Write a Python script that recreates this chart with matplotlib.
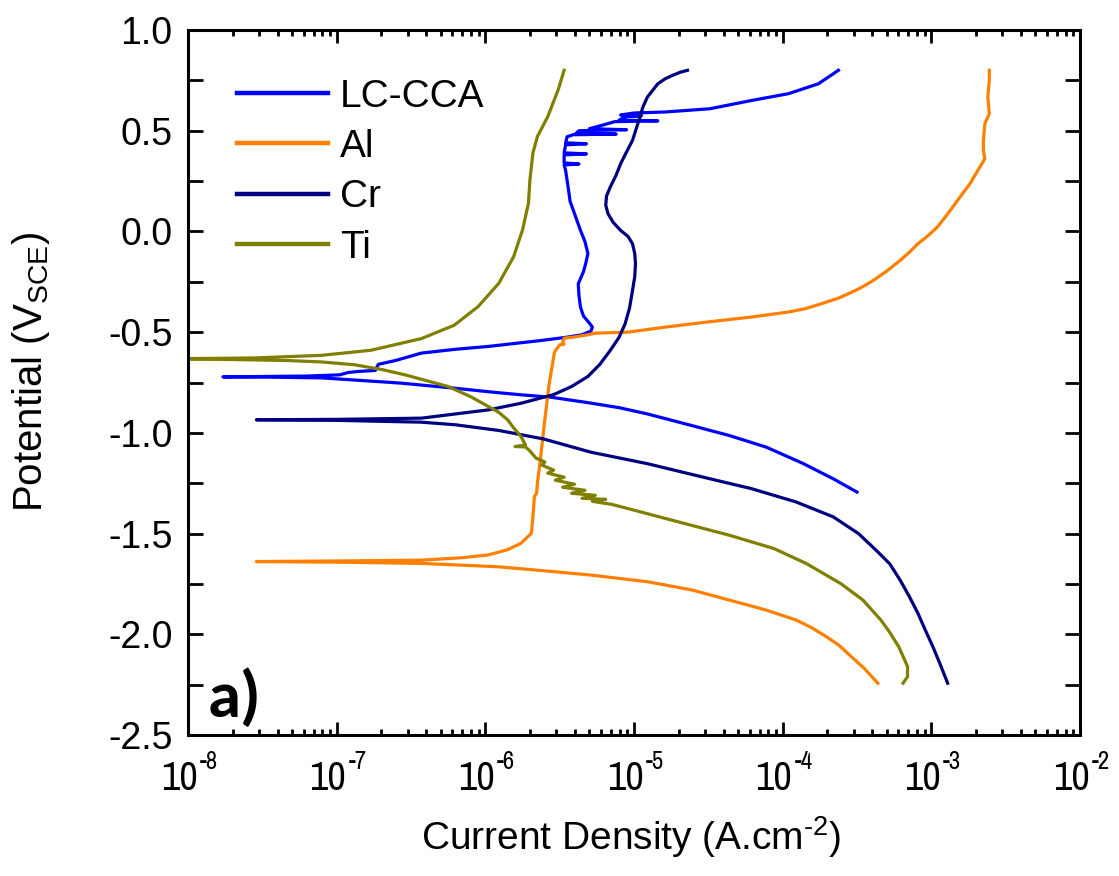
import numpy as np
import matplotlib
matplotlib.use("Agg")
import matplotlib.pyplot as plt
from matplotlib import font_manager
from matplotlib.transforms import ScaledTranslation
from matplotlib.ticker import FixedLocator, LogLocator, NullFormatter, FixedFormatter

# ---------------- data (log10 current density [A/cm2], potential [V_SCE]) ----------------
lc_logi = [-3.50, -3.66, -3.86, -4.11, -4.36, -4.61, -4.91, -5.10, -5.31, -5.56, -5.76, -5.95,
           -6.21, -6.57, -7.10, -7.50, -7.765,
           -7.20, -6.98, -6.92, -6.85, -6.74, -6.72, -6.60, -6.43, -6.20, -5.98, -5.80, -5.62,
           -5.45, -5.35, -5.29, -5.28, -5.30, -5.34, -5.36, -5.37, -5.375, -5.34, -5.325, -5.31,
           -5.33, -5.36, -5.40, -5.43, -5.44, -5.46,
           -5.47, -5.37, -5.47, -5.47, -5.32, -5.47, -5.46, -5.32, -5.46, -5.45, -5.41, -5.12,
           -5.39, -5.37, -5.05, -5.30, -5.20, -5.13, -4.84, -5.10, -5.05, -4.95, -5.09,
           -5.00, -4.79, -4.49, -4.21, -3.96, -3.76, -3.675, -3.625]
lc_v = [-1.294, -1.228, -1.153, -1.071, -1.013, -0.964, -0.906, -0.875, -0.850, -0.823, -0.811, -0.798,
        -0.778, -0.753, -0.727, -0.723, -0.722,
        -0.718, -0.712, -0.700, -0.695, -0.690, -0.660, -0.640, -0.604, -0.585, -0.571, -0.556, -0.541,
        -0.525, -0.513, -0.495, -0.475, -0.455, -0.420, -0.376, -0.320, -0.260, -0.200, -0.160, -0.110,
        -0.050, 0.005, 0.088, 0.150, 0.204, 0.303,
        0.330, 0.335, 0.340, 0.380, 0.385, 0.390, 0.430, 0.435, 0.440, 0.470, 0.480, 0.483,
        0.487, 0.500, 0.505, 0.510, 0.530, 0.545, 0.549, 0.553, 0.570, 0.574, 0.578,
        0.588, 0.593, 0.609, 0.650, 0.684, 0.733, 0.775, 0.800]

al_logi = [-3.36, -3.45, -3.54, -3.62, -3.71, -3.81, -3.91, -4.11, -4.36, -4.61, -4.91, -5.29,
           -5.60, -5.91, -6.43, -7.00, -7.54,
           -7.00, -6.43, -6.16, -5.98, -5.85, -5.76, -5.69, -5.68, -5.67, -5.655, -5.65, -5.63,
           -5.60, -5.57, -5.535, -5.525, -5.50, -5.47, -5.48, -5.47, -5.41, -5.31, -5.26, -5.04,
           -4.79, -4.51, -4.21, -3.96, -3.85, -3.74, -3.62, -3.51, -3.45, -3.39, -3.30, -3.21,
           -3.15, -3.09, -3.02, -2.96, -2.90, -2.84, -2.79, -2.74, -2.70,
           -2.66, -2.64, -2.65, -2.65, -2.64, -2.61, -2.62, -2.61, -2.61]
al_v = [-2.243, -2.170, -2.110, -2.055, -2.010, -1.965, -1.929, -1.880, -1.830, -1.780, -1.739, -1.706,
        -1.685, -1.665, -1.648, -1.642, -1.639,
        -1.636, -1.632, -1.620, -1.606, -1.580, -1.548, -1.498, -1.416, -1.316, -1.300, -1.250, -1.134,
        -0.935, -0.753, -0.600, -0.588, -0.563, -0.560, -0.550, -0.530, -0.525, -0.513, -0.505, -0.500,
        -0.475, -0.450, -0.425, -0.400, -0.384, -0.359, -0.330, -0.293, -0.270, -0.243, -0.197, -0.144,
        -0.105, -0.061, -0.020, 0.021, 0.078, 0.137, 0.188, 0.237, 0.287,
        0.336, 0.361, 0.400, 0.452, 0.535, 0.584, 0.667, 0.750, 0.800]

cr_logi = [-2.89, -2.94, -2.99, -3.04, -3.09, -3.15, -3.21, -3.28, -3.36, -3.49, -3.66, -3.91,
           -4.21, -4.54, -4.91, -5.29, -5.61, -5.91, -6.20, -6.43, -7.00, -7.54,
           -7.00, -6.43, -5.98, -5.76, -5.54, -5.42, -5.31, -5.23, -5.16, -5.10, -5.06, -5.03,
           -5.01, -4.995, -4.99, -4.995, -5.01, -5.04, -5.09, -5.14, -5.175, -5.19, -5.185, -5.16,
           -5.12, -5.09, -5.05, -5.01, -4.985, -4.96, -4.94, -4.91, -4.875, -4.84, -4.79, -4.74,
           -4.69, -4.64]
cr_v = [-2.243, -2.150, -2.061, -1.980, -1.896, -1.810, -1.731, -1.650, -1.591, -1.500, -1.417, -1.343,
        -1.277, -1.219, -1.153, -1.096, -1.030, -0.988, -0.960, -0.947, -0.938, -0.935,
        -0.933, -0.927, -0.886, -0.853, -0.810, -0.770, -0.720, -0.660, -0.591, -0.525, -0.459, -0.380,
        -0.293, -0.225, -0.160, -0.110, -0.061, -0.025, 0.005, 0.045, 0.088, 0.130, 0.175, 0.220,
        0.280, 0.336, 0.395, 0.452, 0.510, 0.568, 0.618, 0.667, 0.700, 0.733, 0.758, 0.775,
        0.790, 0.800]

ti_logi = [-3.19, -3.16, -3.16, -3.19, -3.22, -3.28, -3.34, -3.46, -3.61, -3.84, -4.06, -4.36,
           -4.66, -5.04, -5.15, -5.28, -5.19, -5.35, -5.26, -5.42, -5.33, -5.48, -5.40, -5.53,
           -5.47, -5.58, -5.54, -5.62, -5.60, -5.66, -5.70, -5.73, -5.80, -5.73, -5.76, -5.81,
           -5.85, -5.91, -5.98, -6.10, -6.25, -6.40, -6.54, -6.70, -6.88, -7.10, -7.33, -7.70, -8.20,
           -8.20, -7.80, -7.55, -7.10, -6.77, -6.43, -6.21, -6.05, -5.91, -5.81, -5.75, -5.71,
           -5.70, -5.68, -5.65, -5.58, -5.51, -5.47]
ti_v = [-2.243, -2.210, -2.160, -2.110, -2.061, -1.990, -1.929, -1.830, -1.748, -1.649, -1.574, -1.508,
        -1.450, -1.376, -1.355, -1.340, -1.330, -1.325, -1.310, -1.300, -1.285, -1.270, -1.255, -1.235,
        -1.220, -1.200, -1.185, -1.160, -1.145, -1.125, -1.090, -1.070, -1.068, -1.060, -1.018, -0.975,
        -0.935, -0.898, -0.869, -0.820, -0.770, -0.740, -0.712, -0.685, -0.662, -0.648, -0.641, -0.636, -0.633,
        -0.632, -0.630, -0.628, -0.615, -0.590, -0.532, -0.466, -0.374, -0.258, -0.126, 0.007, 0.140,
        0.256, 0.389, 0.471, 0.570, 0.703, 0.800]

series_names = ["LC-CCA", "Al", "Cr", "Ti"]
series_colors = ["#0000FF", "#FF8000", "#000080", "#808000"]

x_ticks = [1e-8, 1e-7, 1e-6, 1e-5, 1e-4, 1e-3, 1e-2]
x_tick_base = ["10", "10", "10", "10", "10", "10", "10"]
x_tick_exp = ["-8", "-7", "-6", "-5", "-4", "-3", "-2"]
y_ticks = [1.0, 0.5, 0.0, -0.5, -1.0, -1.5, -2.0, -2.5]
y_ticklabels = ["1.0", "0.5", "0.0", "-0.5", "-1.0", "-1.5", "-2.0", "-2.5"]

# ---------------- fonts ----------------
def has_font(name):
    try:
        font_manager.findfont(name, fallback_to_default=False)
        return True
    except Exception:
        return False

regular = "Liberation Sans"
narrow = "Archivo Narrow" if has_font("Archivo Narrow") else "Liberation Sans"
bold_font = "Carlito" if has_font("Carlito") else "Lato"

plt.rcParams["font.family"] = [regular, "DejaVu Sans"]
plt.rcParams["axes.unicode_minus"] = False
plt.rcParams["mathtext.fontset"] = "custom"
plt.rcParams["mathtext.rm"] = regular
plt.rcParams["mathtext.it"] = regular + ":italic"
plt.rcParams["mathtext.bf"] = regular + ":bold"

# ---------------- figure ----------------
W, H = 1119, 876
fig = plt.figure(figsize=(W / 100, H / 100), dpi=100)
L, R, T, B = 188, 1080, 30, 735
ax = fig.add_axes([L / W, 1 - B / H, (R - L) / W, (B - T) / H])

data = [(lc_logi, lc_v), (al_logi, al_v), (cr_logi, cr_v), (ti_logi, ti_v)]
for (li, vv), name, col in zip(data, series_names, series_colors):
    ax.plot(10 ** np.array(li), vv, color=col, lw=2.3, label=name, solid_joinstyle="round")

ax.set_xscale("log")
ax.set_xlim(1e-8, 1e-2)
ax.set_ylim(-2.5, 1.0)

ax.xaxis.set_major_locator(FixedLocator(x_ticks))
ax.xaxis.set_major_formatter(FixedFormatter(x_tick_base))
ax.xaxis.set_minor_locator(LogLocator(base=10, subs=np.arange(2, 10), numticks=100))
ax.xaxis.set_minor_formatter(NullFormatter())
ax.yaxis.set_major_locator(FixedLocator(y_ticks))
ax.yaxis.set_major_formatter(FixedFormatter(y_ticklabels))
ax.yaxis.set_minor_locator(FixedLocator(np.arange(-2.25, 1.0, 0.5)))

for s in ax.spines.values():
    s.set_linewidth(2.2)
ax.tick_params(which="both", direction="in", top=True, right=True, width=2.0, color="black")
ax.tick_params(axis="x", which="major", length=9.5, pad=18, labelsize=29)
ax.tick_params(axis="x", which="minor", length=4.5)
ax.tick_params(axis="y", which="both", length=10.5)
ax.tick_params(axis="y", which="major", pad=11, labelsize=27)

shift = ScaledTranslation(-0.09, 0, fig.dpi_scale_trans)
for lab in ax.get_xticklabels():
    lab.set_fontfamily([narrow, "DejaVu Sans"])
    lab.set_transform(lab.get_transform() + shift)

xtrans = ax.get_xaxis_transform()
for xt, ex in zip(x_ticks, x_tick_exp):
    ax.annotate(ex, xy=(xt, 0), xycoords=xtrans, xytext=(8.5, -24.5), textcoords="offset points",
                ha="left", va="baseline", fontsize=18, family=[narrow, "DejaVu Sans"],
                annotation_clip=False)

ax.set_xlabel("Current Density (A.cm$^{\u2010\\mathregular{2}}$)", fontsize=28)
ax.xaxis.set_label_coords(0.497, -0.113)
ax.set_ylabel(r"Potential (V$_{\mathregular{SCE}}$)", fontsize=29)
ax.yaxis.set_label_coords(-0.152, 0.515)

leg = ax.legend(loc="upper left", bbox_to_anchor=(0.055, 0.931), frameon=False,
                fontsize=28, handlelength=2.35, handletextpad=0.3, labelspacing=0.37,
                borderpad=0, borderaxespad=0)
for h in leg.get_lines():
    h.set_linewidth(3.2)

ax.text(0.022, 0.026, "a)", transform=ax.transAxes, fontsize=48, fontweight="bold",
        family=[bold_font, "DejaVu Sans"], ha="left", va="baseline")

fig.savefig("out.png", dpi=100)
